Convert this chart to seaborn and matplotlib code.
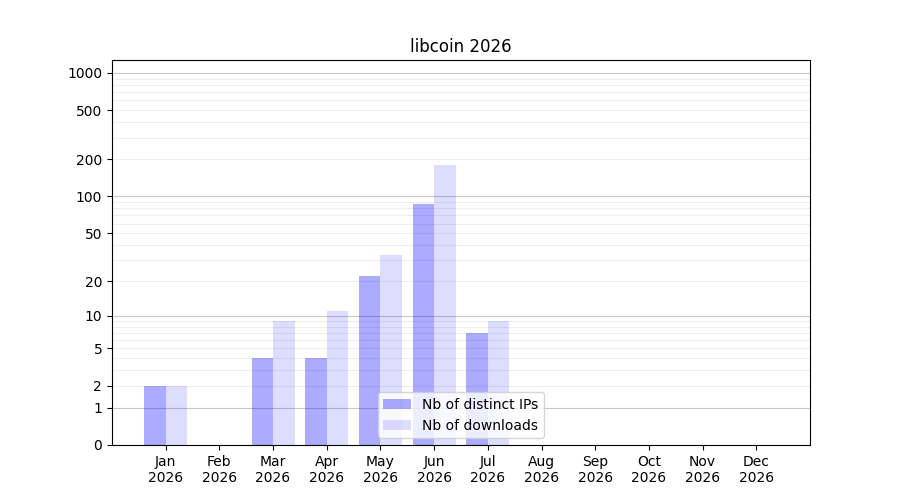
import numpy as np
import pandas as pd
import matplotlib
matplotlib.use("Agg")
import matplotlib.pyplot as plt
import seaborn as sns
from matplotlib.ticker import FixedLocator, FixedFormatter

months = ["Jan", "Feb", "Mar", "Apr", "May", "Jun", "Jul", "Aug", "Sep", "Oct", "Nov", "Dec"]
year = "2026"
distinct_ips = [2, 0, 4, 4, 22, 87, 7, 0, 0, 0, 0, 0]
downloads = [2, 0, 9, 11, 33, 180, 9, 0, 0, 0, 0, 0]
series_names = ["Nb of distinct IPs", "Nb of downloads"]
ytick_values = [0, 1, 2, 5, 10, 20, 50, 100, 200, 500, 1000]

labels = [f"{m}\n{year}" for m in months]
df = pd.DataFrame({
    "month": labels * 2,
    "value": distinct_ips + downloads,
    "series": [series_names[0]] * 12 + [series_names[1]] * 12,
})

fig, ax = plt.subplots(figsize=(9, 5), dpi=100)
fig.subplots_adjust(left=0.1244, right=0.9, top=0.88, bottom=0.11)

fwd = lambda x: np.log10(1 + np.clip(x, 0, None))
inv = lambda y: 10 ** y - 1
ax.set_yscale("function", functions=(fwd, inv))

sns.barplot(data=df, x="month", y="value", hue="series", order=labels,
            hue_order=series_names, palette=["blue", "blue"], width=0.8,
            linewidth=0, ax=ax, errorbar=None, legend=True)

alphas = [0.33, 0.135]
for cont, a in zip(ax.containers, alphas):
    for p in cont:
        p.set_facecolor((0, 0, 1, a))
        p.set_edgecolor("none")

ax.set_xlim(-1, 12)
ax.set_ylim(0, 1270)
ax.yaxis.set_major_locator(FixedLocator(ytick_values))
ax.yaxis.set_major_formatter(FixedFormatter([str(v) for v in ytick_values]))
minor = [m * d for d in (1, 10, 100) for m in range(2, 10)]
ax.yaxis.set_minor_locator(FixedLocator(minor))
ax.tick_params(axis="y", which="minor", length=0)
ax.set_axisbelow(True)
for v in [1, 10, 100, 1000]:
    ax.axhline(v, color="#c8c8c8", linewidth=0.8, zorder=0)
for v in minor:
    ax.axhline(v, color="#eeeeee", linewidth=0.8, zorder=0)

ax.set_xlabel("")
ax.set_ylabel("")
ax.set_title("libcoin 2026")
leg = ax.legend(loc="lower center")
for h, a in zip(leg.legend_handles, alphas):
    h.set_facecolor((0, 0, 1, a))
    h.set_edgecolor("none")

fig.savefig("out.png")
